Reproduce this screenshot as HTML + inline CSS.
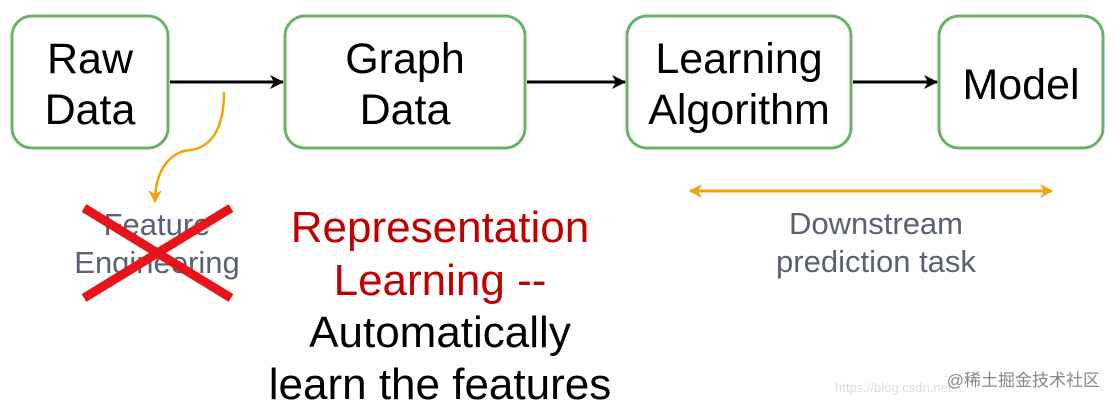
<!DOCTYPE html>
<html><head><meta charset="utf-8"><style>
body{margin:0;background:#fff;width:1115px;height:407px;overflow:hidden;font-family:"Liberation Sans",sans-serif}
</style></head><body>
<svg width="1115" height="407" xmlns="http://www.w3.org/2000/svg" font-family="Liberation Sans, sans-serif">
<defs>
<marker id="a" markerWidth="14" markerHeight="14" refX="13" refY="7" orient="auto" markerUnits="userSpaceOnUse"><path d="M0,0 L14,7 L0,14 L4,7z" fill="#000"/></marker>
<marker id="o" markerWidth="14" markerHeight="14" refX="12" refY="7" orient="auto-start-reverse" markerUnits="userSpaceOnUse"><path d="M0,0 L13,7 L0,14 L4,7z" fill="#f0a30a"/></marker>
</defs>
<g fill="none" stroke="#6ab26a" stroke-width="3">
<rect x="12" y="16" width="156" height="132" rx="20"/>
<rect x="285" y="16" width="240" height="132" rx="20"/>
<rect x="627" y="16" width="224" height="132" rx="20"/>
<rect x="939" y="16" width="164" height="132" rx="20"/>
</g>
<g stroke="#000" stroke-width="3">
<line x1="170" y1="82" x2="283" y2="82" marker-end="url(#a)"/>
<line x1="527" y1="82" x2="625" y2="82" marker-end="url(#a)"/>
<line x1="853" y1="82" x2="937" y2="82" marker-end="url(#a)"/>
</g>
<path d="M224,92 C224,130 210,148 190,150 C170,152 155,170 155,202" fill="none" stroke="#f0a30a" stroke-width="2.5" marker-end="url(#o)"/>
<line x1="690" y1="191" x2="1052" y2="191" stroke="#f0a30a" stroke-width="3" marker-start="url(#o)" marker-end="url(#o)"/>
<g font-size="43" text-anchor="middle" fill="#000">
<text x="90" y="73">Raw</text><text x="90" y="124">Data</text>
<text x="405" y="73">Graph</text><text x="405" y="124">Data</text>
<text x="739" y="73">Learning</text><text x="739" y="124">Algorithm</text>
<text x="1021" y="99">Model</text>
</g>
<g font-size="31" text-anchor="middle" fill="#5a6172">
<text x="157" y="235">Feature</text><text x="157" y="273">Engineering</text>
<text x="876" y="234">Downstream</text><text x="876" y="272">prediction task</text>
</g>
<g stroke="#e8141b" stroke-width="9">
<line x1="84" y1="208" x2="231" y2="298"/>
<line x1="231" y1="208" x2="84" y2="298"/>
</g>
<g font-size="44" text-anchor="middle">
<text x="440" y="242" fill="#c00000">Representation</text>
<text x="440" y="295" fill="#c00000">Learning --</text>
<text x="440" y="347" fill="#000">Automatically</text>
<text x="440" y="399" fill="#000">learn the features</text>
</g>
<text x="835" y="392" font-size="13" fill="#ddd">https://blog.csdn.net/...</text>
<text x="1100" y="386" font-size="17" fill="#888" text-anchor="end" font-family="Liberation Sans, Noto Sans CJK SC, sans-serif">@稀土掘金技术社区</text>
</svg>
</body></html>
